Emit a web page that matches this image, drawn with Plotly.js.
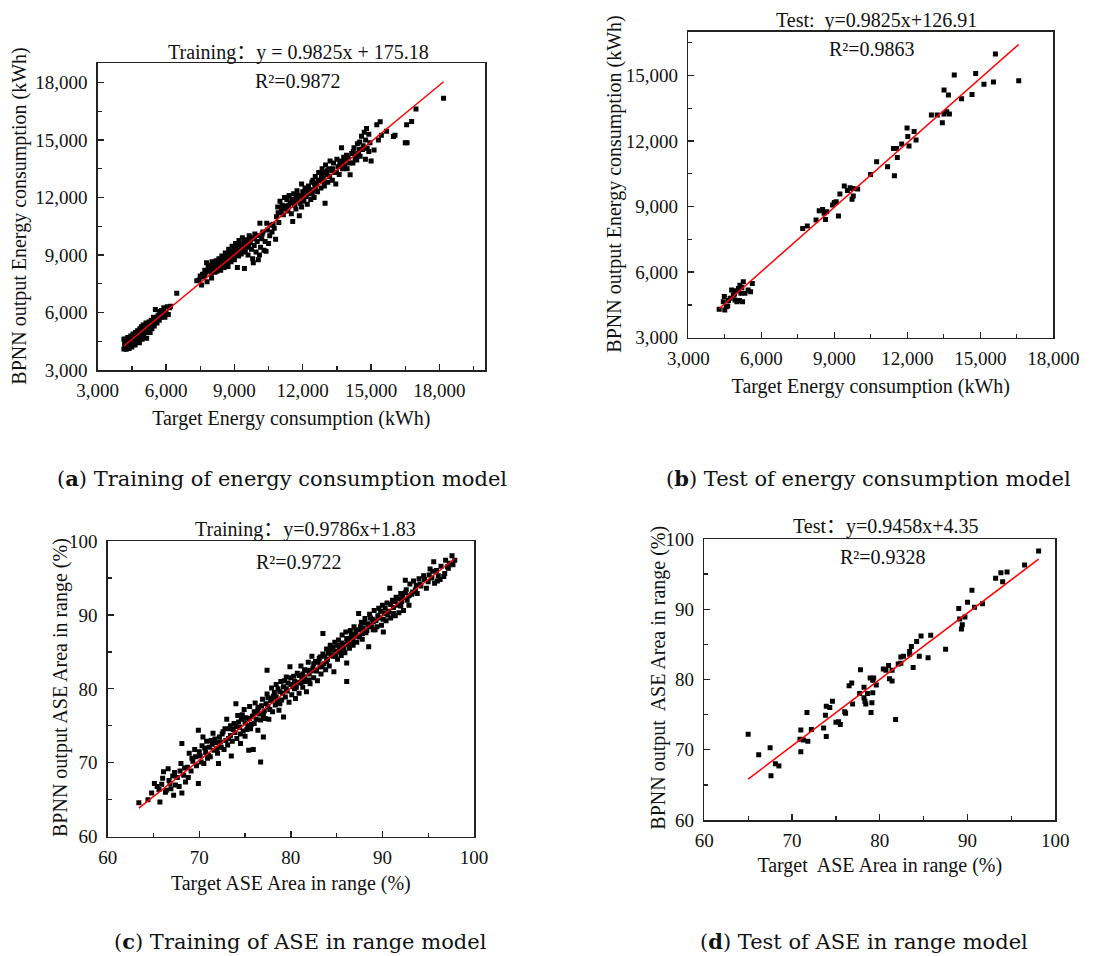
<!DOCTYPE html>
<html>
<head>
<meta charset="utf-8">
<script src="https://cdn.plot.ly/plotly-3.0.1.min.js"></script>
<style>
  html, body { margin: 0; padding: 0; background: #ffffff; }
  #chart { width: 1099px; height: 956px; }
</style>
</head>
<body>
<div id="chart"></div>
<script>
// ---------- (a) training set, energy consumption (kWh) ----------
const trainEnergyTarget = [
  4150,4180,4200,4220,4250,4260,4300,4320,4350,4380,
  4400,4420,4450,4480,4500,4520,4550,4580,4600,4640,
  4660,4700,4720,4750,4780,4800,4830,4850,4880,4900,
  4920,4950,4980,5000,5020,5060,5100,5120,5150,5180,
  5200,5250,5280,5300,5350,5380,5400,5450,5480,5500,
  5530,5560,5600,5650,5700,5720,5780,5800,5850,5900,
  5950,6000,6050,6100,6150,6200,4280,4620,4880,5050,
  5250,4450,4150,6470,
  4240,4360,4470,4570,4690,4810,4940,5070,5210,5340,5470,5610,5750,5880,
  7350,7450,7560,7600,7650,7700,7720,7780,7800,7850,
  7900,7950,8000,8020,8080,8100,8150,8200,8250,8280,
  8320,8380,8400,8450,8500,8550,8600,8650,8700,8720,
  8750,8800,8850,8900,8950,9000,9050,9100,9130,9180,
  9200,9250,9300,9350,9400,9440,9480,9500,9550,9600,
  9650,9700,9750,9800,9830,9870,9900,9950,10000,10050,
  10100,10120,10150,10200,10250,10300,10350,10390,10420,10450,
  10500,10550,10600,10650,10700,10750,10810,8350,8620,8880,
  9150,9420,9680,9020,
  8120,8480,8780,9080,9320,8230,8560,7980,
  7500,7680,7880,8060,8180,8330,8440,8580,8680,8830,
  8980,9120,9270,9380,9520,9620,9760,9880,10060,10220,
  10850,10900,10950,11000,11050,11100,11150,11200,11250,11300,
  11350,11400,11450,11500,11560,11600,11650,11700,11750,11800,
  11850,11900,11950,12000,12050,12100,12150,12200,12250,12300,
  12350,12400,12450,12500,12550,12600,12650,12700,12750,12800,
  12850,12900,12950,12980,13000,13050,13100,13200,13250,13300,
  13350,13400,13450,13500,13550,13600,13650,13700,13750,13800,
  13850,13900,13950,14000,14080,14150,14200,14250,14300,14370,
  14400,14450,14500,14520,14580,14650,14700,14750,14800,14830,
  14900,14950,15000,15130,15250,15320,15400,15450,15680,15980,
  16050,16500,16580,16560,16780,16970,18180,
  11300,11700,12150,12550,12900,13150,12450,11950,
  10920,11080,11220,11380,11520,11640,11780,11880,12020,12120,
  12280,12420,12520,12680,12820,12940,13080,13180,13320,13480,
  13620,13780,13920,14060,14220,14340,14480,14620,14760,14900
];
const trainEnergyOutput = [
  4100,4350,4620,4150,4080,4480,4250,4700,4400,4120,
  4550,4300,4780,4450,4200,4650,4880,4380,4560,4300,
  4950,4700,4480,5050,4820,4550,4420,5150,4900,4700,
  5250,4600,5000,5350,4800,5150,4950,5450,4650,5250,
  5050,5500,5300,4950,5600,5150,5400,5750,5300,5550,
  6150,5700,5450,5850,5600,6050,5750,6100,5900,6250,
  5750,6000,6300,5900,6250,6320,4550,4700,5100,5200,
  5150,4250,4600,7000,
  4350,4500,4500,4750,4600,4900,5050,5050,5350,5350,5450,5650,5900,6050,
  7650,7700,7430,8000,7850,8200,8050,8600,7600,8350,
  8150,8450,7800,8650,8300,8550,8100,8700,8400,8250,
  8800,8550,8200,8950,8650,8350,9100,8800,8500,8400,
  9300,8900,8650,9450,9000,8750,9600,9200,8350,8950,
  9750,9400,9050,9900,9550,8300,9150,9800,9400,9000,
  10000,9650,9300,8800,8600,9500,10100,9150,9700,8750,
  9000,10650,9400,9850,10200,9250,9700,9200,10650,10300,
  9600,10000,10550,10200,10600,10400,9820,8450,8900,9200,
  9500,9700,9850,9300,
  8350,8500,8700,9000,9250,8150,8600,8050,
  7900,7950,8250,8450,8600,8650,8750,8900,9050,9100,
  9150,9350,9500,9300,9650,9550,9900,9850,10000,10100,
  11000,11500,10700,11800,11200,11600,11100,12000,11400,11900,
  11300,12100,11700,11150,10750,12200,11800,11400,12350,11900,
  11050,12100,12700,12300,11800,12500,12050,11650,12600,12200,
  11900,12800,12400,12000,13100,12700,12300,13300,12900,12500,
  13500,13000,12600,11700,13700,13200,12800,13900,13400,12900,
  13800,13300,12700,14000,13600,13200,13900,14600,13500,14100,
  13700,14000,13500,14100,13180,14300,13800,14600,14000,13950,
  14800,14300,14900,14150,15200,14700,15400,14000,15600,14570,
  14400,14850,13900,14480,15800,15000,15950,15250,15450,15180,
  15250,14850,14850,15800,15960,16620,17180,
  11500,12000,12300,12500,13300,13500,12900,11500,
  11200,11400,11550,11600,11900,11600,12100,11700,12000,12250,
  12400,12200,12700,12900,13100,12800,13400,13100,13500,13300,
  13700,13900,14200,13800,14400,14200,14500,14500,15000,15300
];

// ---------- (b) test set, energy consumption (kWh) ----------
const testEnergyTarget = [
  4270,4440,4480,4500,4560,4620,4650,4720,4780,4850,
  4900,4920,4980,5000,5060,5100,5120,5160,5200,5230,
  5260,5330,5460,5560,5630,7700,7890,8250,8380,8520,
  8580,8640,8690,8930,9000,9080,9170,9230,9410,9540,
  9650,9730,9780,9760,9960,10490,10740,11190,11430,11470,
  11560,11590,11770,11990,12020,12070,12280,12360,12990,13230,
  13440,13510,13620,13730,13510,13690,13930,14230,14660,14810,
  15150,15540,15620,16580
];
const testEnergyOutput = [
  4300,4650,4880,4270,4420,4450,4700,4800,5180,4950,
  5000,4720,5150,4650,5250,4700,5400,5030,5300,4650,
  5560,5030,5180,5100,5480,8000,8110,8380,8810,8870,
  8690,8410,8760,9070,9180,9220,8570,9570,9940,9730,
  9860,9330,9480,9830,9800,10470,11050,10820,11660,10410,
  11660,11250,11860,12590,12200,11770,12430,12040,13190,13190,
  12840,13230,13340,13230,14330,14100,15020,13930,14130,15090,
  14600,14700,15980,14760
];

// ---------- (c) training set, ASE area in range (%) ----------
const trainAseTarget = [
  63.4,64.4,65.1,65.4,65.7,65.9,66.1,66.3,66.4,66.6,
  66.7,66.9,67.1,67.2,67.4,67.6,67.8,68.0,68.1,68.1,
  68.3,68.5,68.7,68.9,69.1,69.3,69.5,69.7,69.9,69.9,
  70.1,70.3,70.4,70.5,70.7,70.9,71.1,71.2,71.3,71.5,
  71.6,71.8,72.0,72.1,72.2,72.4,72.6,72.7,72.9,73.0,
  73.1,73.3,73.4,73.5,73.6,73.8,73.9,74.0,74.1,74.2,
  74.4,74.5,74.6,74.8,74.9,75.0,75.1,75.3,75.4,75.5,
  75.6,75.8,75.9,76.0,76.1,76.3,76.4,76.5,76.7,76.7,
  76.9,77.0,77.1,77.2,77.4,77.4,77.5,77.6,77.8,77.9,
  78.0,78.1,78.3,78.4,78.5,78.7,78.8,78.9,79.0,79.2,
  79.2,79.4,79.5,79.6,79.8,79.9,80.0,80.1,80.3,80.4,
  80.5,80.7,80.8,80.9,81.1,81.2,81.3,81.5,81.6,81.7,
  81.9,82.0,82.1,82.3,82.4,82.5,82.7,82.8,82.9,83.1,
  83.2,83.3,83.5,83.5,83.6,83.8,83.9,84.0,84.2,84.3,
  84.4,84.6,84.7,84.8,84.9,85.1,85.2,85.3,85.5,85.6,
  85.7,85.9,86.0,86.1,86.1,86.2,86.4,86.5,86.6,86.8,
  86.9,87.0,87.2,87.4,87.4,87.5,87.7,87.8,87.9,88.1,
  88.2,88.4,88.5,88.6,88.8,88.9,89.0,89.1,89.3,89.4,
  89.6,89.7,89.9,90.0,90.1,90.2,90.4,90.5,90.7,90.8,
  90.9,91.1,91.2,91.4,91.5,91.7,91.8,92.0,92.1,92.3,
  92.5,92.5,92.7,92.9,93.0,93.2,93.4,93.6,93.8,94.0,
  94.2,94.5,94.8,95.0,95.2,95.4,95.6,95.7,95.9,96.1,
  96.3,96.7,96.9,97.1,97.3,97.6,97.7,97.9,
  64.8,65.6,66.0,66.8,67.3,67.9,68.4,68.8,69.2,69.6,
  70.0,70.2,70.6,70.8,71.0,71.4,71.7,71.9,72.3,72.5,
  72.8,73.2,73.4,73.7,74.0,74.3,74.5,74.7,75.0,75.2,
  75.5,75.7,76.0,76.2,76.4,76.6,76.8,77.0,77.3,77.5,
  77.7,77.9,78.2,78.4,78.6,78.8,79.1,79.3,79.5,79.7,
  80.0,80.2,80.4,80.6,80.9,81.1,81.3,81.5,81.8,82.0,
  82.2,82.5,82.7,83.0,83.2,83.4,83.7,83.9,84.1,84.4,
  84.6,84.9,85.1,85.4,85.6,85.8,86.1,86.3,86.6,86.8,
  87.1,87.3,87.6,87.8,88.0,88.3,88.5,88.7,89.0,89.2,
  89.5,89.8,90.1,90.3,90.6,90.9,91.2,91.4,91.7,92.0,
  92.2,92.6,92.9,93.3,93.7,94.1,94.6,95.1,95.5,96.0,
  96.4,96.8,97.2
];
const trainAseOutput = [
  64.6,65.0,67.2,66.8,64.7,67.1,68.8,66.0,66.3,69.2,
  67.6,66.5,68.2,65.6,67.0,68.0,66.8,69.9,65.9,72.6,
  68.3,67.4,69.4,71.3,68.9,70.2,71.8,69.6,74.4,67.2,
  70.9,72.3,73.5,69.9,71.4,70.6,72.1,70.8,73.0,74.0,
  71.7,72.7,71.3,69.9,73.5,72.1,74.2,71.8,73.0,75.9,
  72.4,74.6,73.7,70.9,72.9,75.3,74.1,78.0,73.3,76.4,
  74.8,72.6,75.9,74.3,77.2,73.6,76.1,75.0,71.7,77.6,
  74.6,76.3,71.8,75.3,78.1,76.8,74.4,77.5,70.1,75.8,
  78.6,73.5,77.0,76.0,82.5,79.3,77.6,75.9,78.4,80.1,
  76.9,79.0,77.8,80.6,78.3,77.1,79.6,81.0,78.5,76.2,
  80.3,78.9,81.6,79.7,78.2,83.0,80.6,79.2,81.7,80.0,
  78.7,82.1,80.9,79.4,83.1,81.3,80.2,82.6,81.0,79.6,
  83.6,82.0,80.7,84.4,82.8,81.5,83.7,82.4,81.1,84.1,
  83.0,82.0,87.5,84.7,83.4,82.6,85.4,84.0,83.1,85.9,
  84.6,84.4,82.3,86.3,85.1,84.0,86.6,85.5,84.5,87.3,
  86.0,84.9,87.7,83.5,81.0,86.4,85.5,87.9,86.8,85.9,
  88.4,87.3,86.3,90.2,88.0,87.0,89.0,86.7,88.2,89.5,
  87.6,88.8,85.7,90.1,88.4,89.4,88.0,90.6,89.2,88.4,
  90.9,89.6,88.6,91.3,87.7,90.2,89.2,91.6,90.5,93.6,
  89.6,92.0,91.0,89.9,92.4,91.3,90.3,92.9,91.8,90.6,
  94.7,93.0,92.0,91.3,94.2,92.8,94.6,93.4,92.9,94.9,
  93.9,95.3,93.6,94.5,96.2,95.0,97.2,94.3,96.0,95.3,
  94.8,95.2,97.4,96.5,97.0,98.0,96.8,97.4,
  65.9,66.4,67.9,67.2,68.7,68.9,69.3,68.0,70.6,70.8,
  71.5,70.1,72.0,72.9,71.0,72.5,73.2,71.9,72.8,73.9,
  74.6,73.3,75.0,74.5,74.9,75.5,73.9,76.5,75.4,74.5,
  76.0,75.2,76.9,75.9,77.3,76.6,77.7,76.4,78.0,78.8,
  77.2,78.7,79.5,78.9,80.0,78.0,79.4,81.1,80.0,80.8,
  81.5,80.3,81.0,80.2,81.8,80.8,82.0,81.6,82.5,81.2,
  82.4,83.4,82.5,83.6,84.3,83.0,84.4,83.7,84.8,85.3,
  85.6,84.4,85.9,85.0,86.2,85.4,86.8,86.0,87.3,86.5,
  87.8,87.1,88.4,87.5,88.9,87.9,88.6,89.6,89.1,88.0,
  89.9,90.5,89.4,90.9,90.0,91.4,90.2,91.8,92.2,91.2,
  92.4,93.4,92.6,93.1,94.0,94.2,94.8,95.4,95.9,94.6,
  96.6,95.6,96.3
];

// ---------- (d) test set, ASE area in range (%) ----------
const testAseTarget = [
  65.0,66.2,67.5,67.6,68.1,68.5,70.9,71.0,71.0,71.3,
  71.7,71.8,72.2,73.6,73.8,73.9,73.9,74.3,74.6,75.0,
  75.3,75.5,76.0,76.1,76.5,76.8,76.9,77.7,77.8,78.2,
  78.2,78.3,78.4,78.6,78.9,79.0,79.1,79.2,79.2,79.3,
  79.6,80.4,80.7,81.0,81.1,81.4,81.4,81.8,82.1,82.4,
  82.4,82.7,83.4,83.4,83.6,83.8,84.2,84.5,84.7,85.5,
  85.8,87.5,89.0,89.1,89.3,89.4,89.7,90.0,90.5,90.8,
  91.7,93.2,93.8,94.0,94.5,96.5,98.1
];
const testAseOutput = [
  72.2,69.3,70.3,66.3,68.0,67.7,71.5,72.8,69.7,71.4,
  75.3,71.2,72.9,73.1,74.9,71.9,76.2,76.0,76.9,73.9,
  74.0,73.6,75.4,75.2,79.1,79.5,76.5,78.0,81.4,78.9,
  77.4,76.9,76.5,78.0,80.2,75.3,76.7,78.1,79.9,80.2,
  79.2,81.5,81.3,82.0,80.1,79.8,81.3,74.3,82.2,82.3,
  83.2,83.3,84.0,83.6,84.7,81.7,85.4,83.3,86.2,83.1,
  86.3,84.3,90.1,88.6,87.2,87.8,88.9,91.0,92.7,90.3,
  90.8,94.4,95.2,93.9,95.3,96.3,98.3
];

// ---------- fitted lines and text ----------
const fitSlope     = [0.9825, 0.9825, 0.9786, 0.9458];
const fitIntercept = [175.18, 126.91, 1.83, 4.35];
const fitTitles = [
  'Training\uFF1Ay = 0.9825x + 175.18',
  'Test:\u00A0 y=0.9825x+126.91',
  'Training\uFF1Ay=0.9786x+1.83',
  'Test\uFF1Ay=0.9458x+4.35'
];
const r2Labels = ['R\u00B2=0.9872', 'R\u00B2=0.9863', 'R\u00B2=0.9722', 'R\u00B2=0.9328'];
const xTitles = [
  'Target Energy consumption (kWh)',
  'Target Energy consumption (kWh)',
  'Target ASE Area in range (%)',
  'Target\u00A0 ASE Area in range (%)'
];
const yTitles = [
  'BPNN output Energy consumption (kWh)',
  'BPNN output Energy consumption (kWh)',
  'BPNN output ASE Area in range (%)',
  'BPNN output\u00A0 ASE Area in range (%)'
];
const captionTags  = ['a', 'b', 'c', 'd'];
const captionTexts = [
  'Training of energy consumption model',
  'Test of energy consumption model',
  'Training of ASE in range model',
  'Test of ASE in range model'
];

// ---------- page geometry (pixels) ----------
const W = 1099, H = 956;
const SERIF = '"Liberation Serif", "Times New Roman", serif';
const TITLEFONT = '"Liberation Serif", "Noto Sans CJK SC", serif';
const CAPFONT = '"DejaVu Serif", "Liberation Serif", serif';
const INK = '#111111';
const AXC = '#222222';

const panels = [
  { box: [97.7, 485, 63.3, 370],   xr: [3000, 20000], yr: [3000, 19000], dt: 3000, fmt: ',d',
    title: [298, 53], r2: [297.7, 81], xs: 10, yt: [20, 216.7], cap: [282, 478] },
  { box: [688.3, 1053.3, 31.7, 337.7], xr: [3000, 18000], yr: [3000, 17000], dt: 3000, fmt: ',d',
    title: [876.7, 20], r2: [871.7, 49.3], xs: 11, yt: [615, 184.7], cap: [868, 478] },
  { box: [107.7, 474, 541, 836.7], xr: [60, 100], yr: [60, 100], dt: 10, fmt: 'd',
    title: [305, 529], r2: [299.3, 561.7], xs: 9, yt: [60, 688], cap: [300, 941] },
  { box: [704.3, 1055.3, 539, 820], xr: [60, 100], yr: [60, 100], dt: 10, fmt: 'd',
    title: [886, 526.7], r2: [883.3, 557.3], xs: 7, yt: [657.7, 678], cap: [864, 941] }
];

const seriesX = [trainEnergyTarget, testEnergyTarget, trainAseTarget, testAseTarget];
const seriesY = [trainEnergyOutput, testEnergyOutput, trainAseOutput, testAseOutput];

const px = v => v / W;
const py = v => 1 - v / H;

const traces = [];
const layout = {
  width: W, height: H,
  margin: { l: 0, r: 0, t: 0, b: 0 },
  paper_bgcolor: '#ffffff',
  plot_bgcolor: '#ffffff',
  showlegend: false,
  font: { family: SERIF, color: INK },
  annotations: []
};

function axisCommon(range, dt, fmt) {
  return {
    range: range, autorange: false,
    tickmode: 'linear', tick0: range[0], dtick: dt,
    ticks: 'inside', ticklen: 6, tickwidth: 1.3, tickcolor: AXC,
    minor: { ticks: 'inside', ticklen: 4, tickwidth: 1.3, tickcolor: AXC, dtick: dt / 2, showgrid: false },
    showline: true, mirror: true, linecolor: AXC, linewidth: 1.5,
    showgrid: false, zeroline: false,
    tickformat: fmt,
    tickfont: { family: SERIF, size: 19, color: INK },
    automargin: false,
    fixedrange: true
  };
}

panels.forEach((p, i) => {
  const n = i === 0 ? '' : String(i + 1);
  const xa = 'x' + n, ya = 'y' + n;

  // scatter of target vs. network output
  traces.push({
    type: 'scatter', mode: 'markers', xaxis: xa, yaxis: ya,
    x: seriesX[i], y: seriesY[i],
    marker: { symbol: 'square', size: 5, color: '#000000', line: { width: 0 } },
    hoverinfo: 'x+y'
  });

  // regression line across the target range
  const xmin = Math.min(...seriesX[i]);
  const xmax = Math.max(...seriesX[i]);
  traces.push({
    type: 'scatter', mode: 'lines', xaxis: xa, yaxis: ya,
    x: [xmin, xmax],
    y: [fitSlope[i] * xmin + fitIntercept[i], fitSlope[i] * xmax + fitIntercept[i]],
    line: { color: '#ff0000', width: 1.5 },
    hoverinfo: 'skip'
  });

  const [x0, x1, y0, y1] = p.box;
  layout['xaxis' + n] = Object.assign(axisCommon(p.xr, p.dt, p.fmt), {
    domain: [px(x0), px(x1)], anchor: ya, ticklabelstandoff: 3,
    title: { text: xTitles[i], standoff: p.xs, font: { family: SERIF, size: 20, color: INK } }
  });
  layout['yaxis' + n] = Object.assign(axisCommon(p.yr, p.dt, p.fmt), {
    domain: [py(y1), py(y0)], anchor: xa, ticklabelstandoff: 5
  });

  const A = layout.annotations;
  // vertical axis title
  A.push({ xref: 'paper', yref: 'paper', x: px(p.yt[0]), y: py(p.yt[1]),
           xanchor: 'center', yanchor: 'middle', showarrow: false, textangle: -90,
           text: yTitles[i], font: { family: SERIF, size: 20, color: INK } });
  // regression equation above the frame
  A.push({ xref: 'paper', yref: 'paper', x: px(p.title[0]), y: py(p.title[1]),
           xanchor: 'center', yanchor: 'middle', showarrow: false,
           text: fitTitles[i], font: { family: TITLEFONT, size: 20, color: INK } });
  // coefficient of determination inside the frame
  A.push({ xref: 'paper', yref: 'paper', x: px(p.r2[0]), y: py(p.r2[1]),
           xanchor: 'center', yanchor: 'middle', showarrow: false,
           text: r2Labels[i], font: { family: SERIF, size: 20, color: INK } });
  // sub-figure caption
  A.push({ xref: 'paper', yref: 'paper', x: px(p.cap[0]), y: py(p.cap[1]),
           xanchor: 'center', yanchor: 'middle', showarrow: false,
           text: '(<b>' + captionTags[i] + '</b>) ' + captionTexts[i],
           font: { family: CAPFONT, size: 21, color: INK } });
});

Plotly.newPlot('chart', traces, layout, { staticPlot: true, displayModeBar: false });
</script>
</body>
</html>
